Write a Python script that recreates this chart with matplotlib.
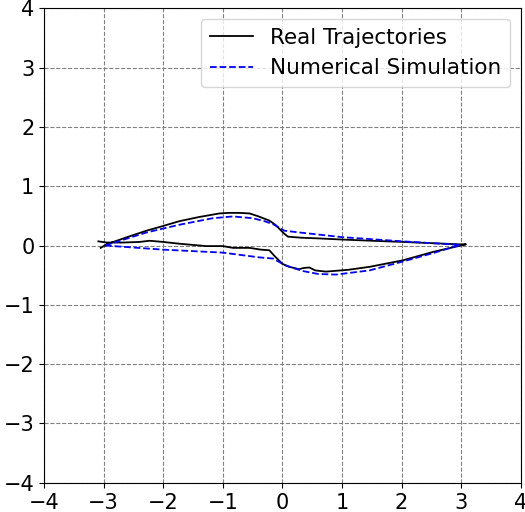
import matplotlib
matplotlib.use("Agg")
import matplotlib.pyplot as plt

# real trajectory (closed loop: upper branch left->right, lower branch right->left)
real_x = [-3.05, -2.95, -2.84, -2.55, -2.28, -2.0, -1.73, -1.4, -1.06, -0.9, -0.72, -0.55, -0.4, -0.22,
          -0.12, -0.05, 0.03, 0.09, 0.2, 0.34, 0.6, 1.01, 1.5, 2.02, 2.5, 2.96, 3.08,
          2.52, 2.02, 1.46, 1.1, 0.73, 0.55, 0.45, 0.35, 0.28, 0.12, 0.0, -0.13, -0.22, -0.36,
          -0.55, -0.83, -1.0, -1.28, -1.73, -2.0, -2.23, -2.40, -2.68, -2.95, -3.09]
real_y = [-0.04, 0.02, 0.06, 0.16, 0.25, 0.33, 0.41, 0.48, 0.54, 0.55, 0.55, 0.54, 0.49, 0.42,
          0.35, 0.28, 0.2, 0.15, 0.14, 0.13, 0.12, 0.10, 0.08, 0.06, 0.04, 0.02, 0.02,
          -0.11, -0.25, -0.36, -0.41, -0.44, -0.42, -0.37, -0.38, -0.40, -0.36, -0.31, -0.18, -0.08, -0.07,
          -0.04, -0.04, -0.01, -0.01, 0.03, 0.06, 0.08, 0.06, 0.05, 0.05, 0.07]

# numerical simulation
sim_x = [-2.98, -2.6, -2.28, -1.73, -1.17, -0.83, -0.5, -0.3, -0.16, -0.05, 0.03, 0.28, 1.01, 2.02, 2.98,
         2.52, 2.02, 1.46, 0.9, 0.6, 0.34, 0.06, -0.16, -0.39, -1.0, -2.0, -2.98]
sim_y = [0.0, 0.12, 0.22, 0.35, 0.46, 0.49, 0.46, 0.41, 0.36, 0.30, 0.25, 0.22, 0.14, 0.07, 0.01,
         -0.13, -0.27, -0.42, -0.49, -0.48, -0.43, -0.34, -0.22, -0.2, -0.12, -0.07, 0.0]

fig = plt.figure(figsize=(5.25, 5.12), dpi=100)
ax = fig.add_axes([0.084, 0.057, 0.908, 0.927])
ax.plot(real_x, real_y, color='black', linewidth=1.3, label='Real Trajectories')
ax.plot(sim_x, sim_y, color='blue', linestyle='--', linewidth=1.3, label='Numerical Simulation')
ax.set_xlim(-4, 4)
ax.set_ylim(-4, 4)
ax.set_xticks(range(-4, 5))
ax.set_yticks(range(-4, 5))
ax.tick_params(labelsize=15)
ax.grid(True, color='gray', linestyle='--', linewidth=0.8)
ax.legend(loc='upper right', fontsize=15.5)
fig.savefig('out.png', dpi=100)
